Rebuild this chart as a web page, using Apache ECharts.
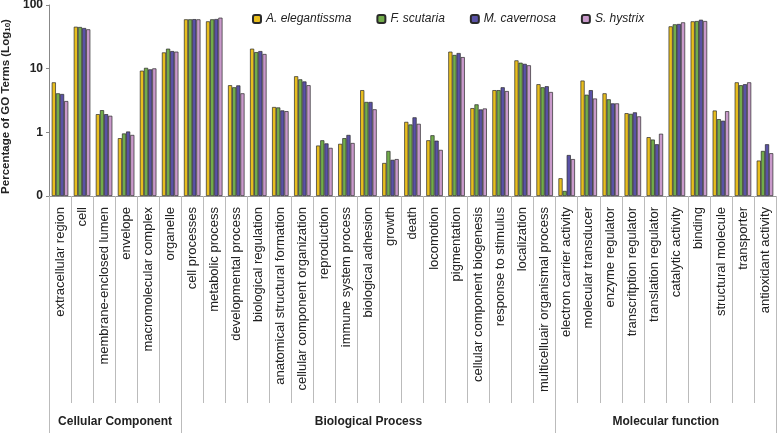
<!DOCTYPE html>
<html>
<head>
<meta charset="utf-8">
<script src="https://cdn.jsdelivr.net/npm/echarts@6/dist/echarts.min.js"></script>
<style>html,body{margin:0;padding:0;background:#fff}#c{width:777px;height:435px}</style>
</head>
<body>
<div id="c"></div>
<script>
const categories = ['extracellular region','cell','membrane-enclosed lumen','envelope','macromolecular complex','organelle',
  'cell processes','metabolic process','developmental process','biological regulation','anatomical structural formation','cellular component organization','reproduction','immune system process','biological adhesion','growth','death','locomotion','pigmentation','cellular component biogenesis','response to stimulus','localization','multicelluair organismal process',
  'electron carrier activity','molecular transducer','enzyme regulator','transcritption regulator','translation regulator','catalytic activity','binding','structural molecule','transporter','antioxidant activity'];
const seriesNames = ['A. elegantissma','F. scutaria','M. cavernosa','S. hystrix'];
const aElegantissma = [6.1,45.6,1.93,0.81,9.3,18.0, 59.6,55.4,5.5,20.6,2.5,7.6,0.62,0.66,4.6,0.33,1.46,0.75,18.5,2.4,4.6,13.5,5.7, 0.19,6.5,4.1,2.0,0.84,46.2,55.4,2.2,6.1,0.36];
const fScutaria     = [4.1,45.1,2.23,0.96,10.3,20.6, 59.6,59.6,5.1,18.2,2.46,6.8,0.75,0.81,3.0,0.51,1.33,0.9,16.4,2.75,4.6,12.4,5.1, 0.12,3.9,3.3,1.95,0.77,49.7,56,1.61,5.5,0.51];
const mCavernosa    = [4.0,43.5,1.93,1.03,9.75,18.9, 60,60.2,5.46,18.9,2.21,6.3,0.67,0.91,3.0,0.37,1.72,0.74,17.6,2.29,5.1,11.9,5.3, 0.44,4.6,2.85,2.06,0.65,50.3,58.7,1.52,5.7,0.65];
const sHystrix      = [3.1,41.5,1.82,0.91,10.1,18.5, 59.6,63.2,4.1,17.0,2.15,5.5,0.57,0.68,2.3,0.38,1.36,0.53,15.2,2.37,4.45,11.3,4.3, 0.38,3.4,2.85,1.78,0.95,53.4,56,2.15,6.1,0.47];
const groupNames = ['Cellular Component','Biological Process','Molecular function'];
const groupSizes = [6,17,10];
const yTickLabels = {0.1:'0',1:'1',10:'10',100:'100'};

const colors = ['#E8BE1E','#72AC4A','#5A52A6','#C99ACB'];
const seriesData = [aElegantissma, fScutaria, mCavernosa, sHystrix];

const bounds = [0]; const centers = [];
groupSizes.forEach(n => { const s = bounds[bounds.length-1]; centers.push(s + n/2); bounds.push(s + n); });

const chart = echarts.init(document.getElementById('c'), null, {renderer:'canvas'});
chart.setOption({
  animation: false,
  backgroundColor: '#fff',
  grid: {left: 49, right: 1, top: 5, height: 191, containLabel: false, outerBoundsMode: 'none'},
  legend: {
    top: 8, left: 247, itemWidth: 8, itemHeight: 8, itemGap: 25,
    textStyle: {fontFamily: 'Liberation Sans', fontSize: 12, fontStyle: 'italic', color: '#222'},
    data: seriesNames
  },
  xAxis: [{
    type: 'category', data: categories, position: 'bottom',
    axisLine: {show: true, lineStyle: {color: '#999', width: 1}},
    axisTick: {show: true, length: 207, lineStyle: {color: '#bbb', width: 1}},
    axisLabel: {rotate: 90, interval: 0, margin: 11, fontFamily: 'Liberation Sans', fontSize: 13, color: '#222'},
    splitLine: {show: false}
  }, {
    type: 'value', min: 0, max: bounds[bounds.length-1], position: 'bottom',
    axisLine: {show: false},
    axisTick: {show: true, length: 237, customValues: bounds, lineStyle: {color: '#bbb', width: 1}},
    axisLabel: {show: true, customValues: centers, margin: 220,
      formatter: v => { const i = centers.indexOf(v); return i >= 0 ? groupNames[i] : ''; },
      fontFamily: 'Liberation Sans', fontSize: 12, fontWeight: 'bold', color: '#222'},
    splitLine: {show: false}
  }],
  yAxis: {
    type: 'log', logBase: 10, min: 0.1, max: 100, startValue: 0.1,
    axisLine: {show: true, lineStyle: {color: '#888'}},
    axisTick: {show: true, length: 3, lineStyle: {color: '#888'}},
    splitLine: {show: false},
    minorTick: {show: false},
    axisLabel: {margin: 6, fontFamily: 'Liberation Sans', fontSize: 12, fontWeight: 'bold', color: '#222',
      formatter: v => { const k = Math.round(v*10)/10; return yTickLabels[k] !== undefined ? yTickLabels[k] : ''; }},
    name: 'Percentage of GO Terms (Log{s|10})',
    nameLocation: 'middle', nameGap: 35, nameRotate: 90,
    nameTextStyle: {fontFamily: 'Liberation Sans', fontSize: 11.5, fontWeight: 'bold', color: '#222', padding: [0, 12, 0, 0],
      rich: {s: {fontFamily: 'Liberation Sans', fontSize: 8, fontWeight: 'bold', color: '#222', verticalAlign: 'bottom', padding: [5,0,0,0]}}}
  },
  series: seriesNames.map((n, i) => ({
    name: n, type: 'bar', data: seriesData[i],
    barGap: '0%', barCategoryGap: '25%',
    itemStyle: {color: colors[i], borderColor: '#2a2a2a', borderWidth: 0.7}
  }))
});
</script>
</body>
</html>
